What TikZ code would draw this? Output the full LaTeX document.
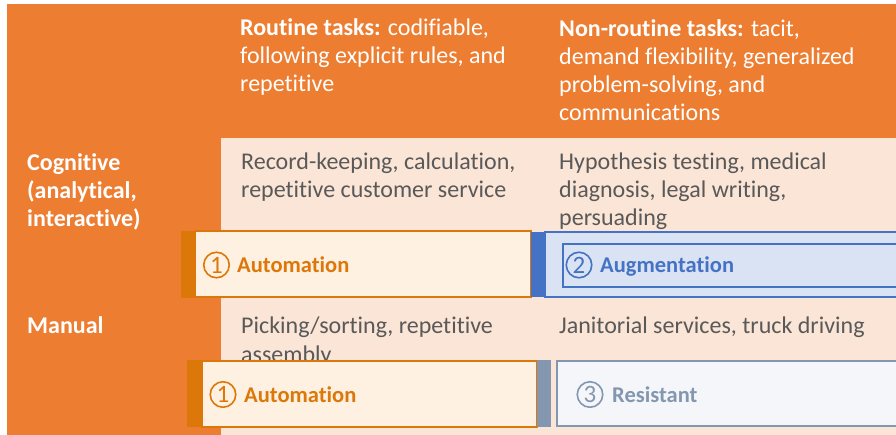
\documentclass[tikz,border=0pt]{standalone}
\usepackage{fontspec}
\setmainfont[RawFeature={-liga;-dlig;-clig}]{Carlito}
\definecolor{bgorange}{HTML}{ED7D31}
\definecolor{bodypeach}{HTML}{FBE5D6}
\definecolor{autoorange}{HTML}{DC780A}
\definecolor{autofill}{HTML}{FEF1E1}
\definecolor{augblue}{HTML}{4472C4}
\definecolor{augfill}{HTML}{DAE3F3}
\definecolor{resgray}{HTML}{8497B0}
\definecolor{resfill}{HTML}{F4F6FA}
\definecolor{bodytext}{HTML}{595959}
\begin{document}
\begin{tikzpicture}[x=1pt,y=-1pt,
  panel/.style={rectangle, inner sep=0pt, outer sep=0pt, anchor=north west},
  headtext/.style={anchor=base west, inner sep=0pt, text=white, font=\fontsize{24}{28}\selectfont},
  rowlabel/.style={anchor=base west, inner sep=0pt, text=white, font=\fontsize{24}{28}\selectfont\bfseries},
  celltext/.style={anchor=base west, inner sep=0pt, text=bodytext, font=\fontsize{24}{28}\selectfont},
  tagtext/.style={anchor=base west, inner sep=0pt, font=\fontsize{22.5}{28}\selectfont\bfseries},
  digit/.style={circle, draw, line width=1.6pt, minimum size=25.5pt, inner sep=0pt, font=\fontsize{25}{25}\selectfont}]
\useasboundingbox (0,0) rectangle (896,435);
\fill[white] (0,0) rectangle (896,435);

% backgrounds
\node[panel, fill=bgorange, minimum width=889pt, minimum height=431pt] (frame) at (7,4) {};
\node[panel, fill=bodypeach, minimum width=675pt, minimum height=297pt] (body) at (221,138) {};

% column headers
\node[headtext] (r1) at (240,36) {\textbf{Routine tasks:} codifiable,};
\node[headtext] (r2) at (240,64) {following explicit rules, and};
\node[headtext] (r3) at (240,92) {repetitive};
\node[headtext] (n1) at (559,37) {\textbf{Non-routine tasks:} tacit,};
\node[headtext] (n2) at (559,65) {demand flexibility, generalized};
\node[headtext] (n3) at (559,93) {problem-solving, and};
\node[headtext] (n4) at (559,121) {communications};

% row labels
\node[rowlabel] (cg1) at (27,171) {Cognitive};
\node[rowlabel] (cg2) at (27,199) {(analytical,};
\node[rowlabel] (cg3) at (27,227) {interactive)};
\node[rowlabel] (mn1) at (27,334) {Manual};

% cell contents
\node[celltext] (a1) at (241,170) {Record-keeping, calculation,};
\node[celltext] (a2) at (241,198) {repetitive customer service};
\node[celltext] (b1) at (559,170) {Hypothesis testing, medical};
\node[celltext] (b2) at (559,198) {diagnosis, legal writing,};
\node[celltext] (b3) at (559,226) {persuading};
\node[celltext] (c1) at (241,334) {Picking/sorting, repetitive};
\node[celltext] (c2) at (241,362) {assembly};
\node[celltext] (d1) at (559,334) {Janitorial services, truck driving};

% cognitive row tags
\node[panel, fill=autoorange, minimum width=14pt, minimum height=67pt] (ab1) at (181,231) {};
\node[panel, fill=autofill, draw=autoorange, line width=2pt, minimum width=336pt, minimum height=66pt] (at1) at (195,231.5) {};
\node[panel, fill=augblue, minimum width=14pt, minimum height=65pt] (gb1) at (531,232) {};
\node[panel, fill=augfill, draw=augblue, line width=1.5pt, minimum width=360pt, minimum height=65pt] (gt1) at (545,232) {};
\node[panel, draw=augblue, line width=1.5pt, minimum width=345pt, minimum height=43pt] (gi1) at (563,244) {};
\node[digit, draw=autoorange, text=autoorange] (d1a) at (216.5,265) {1};
\node[tagtext, text=autoorange] (t1a) at (237,273) {Automation};
\node[digit, draw=augblue, text=augblue] (d2a) at (579,265) {2};
\node[tagtext, text=augblue] (t2a) at (600,273) {Augmentation};

% manual row tags
\node[panel, fill=autoorange, minimum width=15pt, minimum height=67pt] (ab2) at (187,360) {};
\node[panel, fill=autofill, draw=autoorange, line width=2pt, minimum width=335pt, minimum height=66pt] (at2) at (202,360.5) {};
\node[panel, fill=resgray, minimum width=14pt, minimum height=67pt] (rb2) at (537,360) {};
\node[panel, fill=resfill, draw=resgray, line width=1.5pt, minimum width=350pt, minimum height=65pt] (rt2) at (557,361) {};
\node[digit, draw=autoorange, text=autoorange] (d1b) at (223,394.5) {1};
\node[tagtext, text=autoorange] (t1b) at (244,402) {Automation};
\node[digit, draw=resgray, text=resgray] (d3b) at (590,394.5) {3};
\node[tagtext, text=resgray] (t3b) at (612,402) {Resistant};
\end{tikzpicture}
\end{document}
